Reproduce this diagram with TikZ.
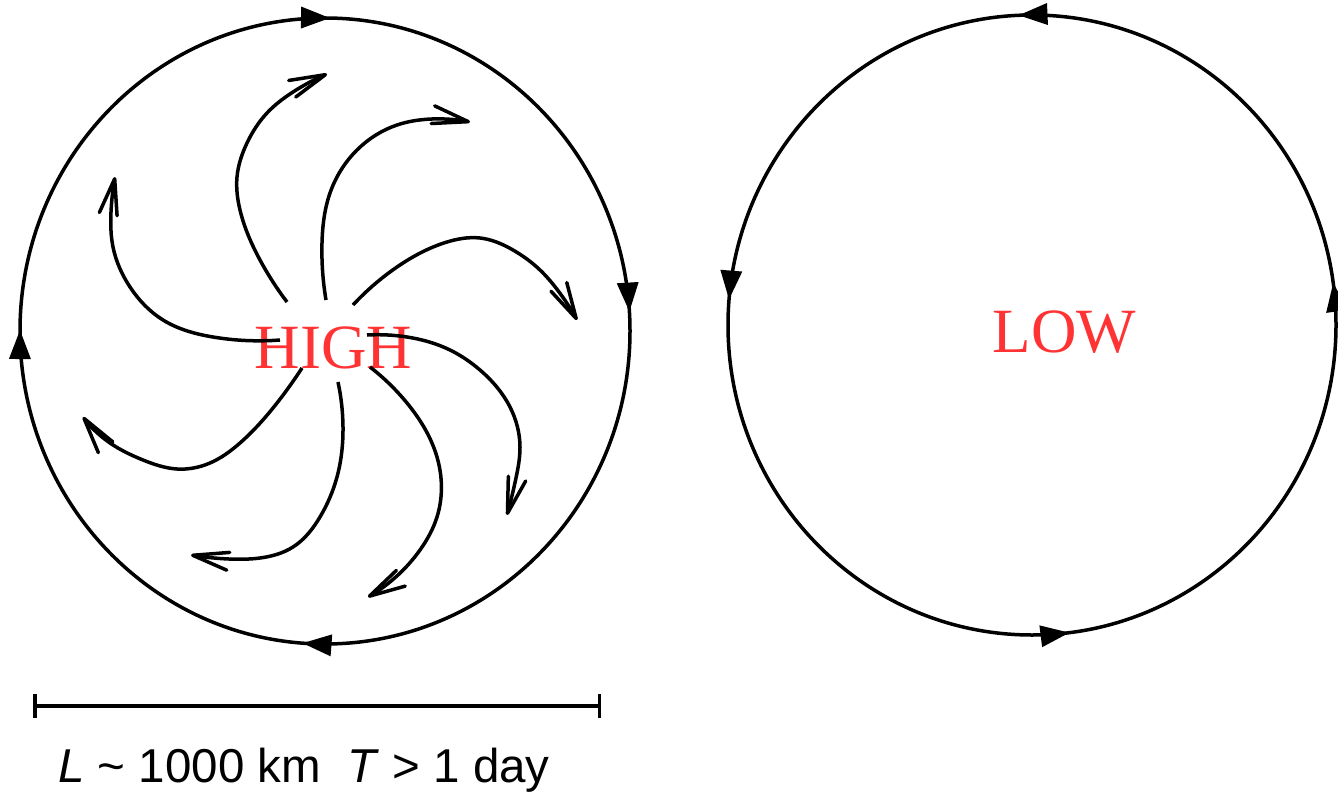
\documentclass[tikz,border=0pt]{standalone}
\usepackage{fontspec}
\setmainfont{Liberation Serif}
\setsansfont{Liberation Sans}
\usetikzlibrary{arrows.meta,decorations.markings,hobby}
\definecolor{pressred}{RGB}{255,51,51}
\begin{document}
\begin{tikzpicture}[x=1pt,y=-1pt,line width=3.5pt,
  flow/.style={-{Straight Barb[length=36pt,width=18pt,line width=3.5pt,round]}, use Hobby shortcut},
  circ/.style={line width=3.5pt},
  cw/.style={postaction={decorate},decoration={markings,
    mark=at position 0.0100 with {\arrowreversed{Triangle[length=29pt,width=21pt]}},
    mark=at position 0.2474 with {\arrowreversed{Triangle[length=29pt,width=21pt]}},
    mark=at position 0.4995 with {\arrowreversed{Triangle[length=29pt,width=21pt]}},
    mark=at position 0.7384 with {\arrowreversed{Triangle[length=29pt,width=21pt]}}}},
  ccw/.style={postaction={decorate},decoration={markings,
    mark=at position 0.022 with {\arrow{Triangle[length=29pt,width=21pt]}},
    mark=at position 0.257 with {\arrow{Triangle[length=29pt,width=21pt]}},
    mark=at position 0.4868 with {\arrow{Triangle[length=29pt,width=21pt]}},
    mark=at position 0.7695 with {\arrow{Triangle[length=29pt,width=21pt]}}}},
  label/.style={text=pressred,font=\fontsize{63}{70}\selectfont,inner sep=0pt,anchor=base},
  scaletext/.style={font=\sffamily\fontsize{47.5}{54}\selectfont,inner sep=0pt,anchor=base}
]
\useasboundingbox (0,0) rectangle (1338,797);

% circles
\draw[circ,cw] (325,331) ellipse [x radius=305pt, y radius=313pt];
\draw[circ,ccw] (1032,325) ellipse [x radius=304pt, y radius=310pt];

% labels
\node[label] (high) at (333.5,368) {HIGH};
\node[label] (low) at (1064.5,352) {LOW};

% outflow spiral arrows
\draw[flow] (280,340) .. (213,337) .. (163,320) .. (130,287) .. (113,247) .. (111,212) .. (115,177);
\draw[flow] (287,302) .. (260,260) .. (240,210) .. (237,177) .. (247,143) .. (267,113) .. (293,92) .. (327,74);
\draw[flow] (326,300) .. (322,243) .. (330,193) .. (357,150) .. (397,125) .. (432,119) .. (470,122);
\draw[flow] (353,305) .. (397,267) .. (447,242) .. (480,238) .. (513,250) .. (540,270) .. (556,288) .. (577,320);
\draw[flow] (367,335) .. (407,337) .. (450,350) .. (480,370) .. (510,407) .. (520,447) .. (516,478) .. (507,515);
\draw[flow] (370,367) .. (407,403) .. (437,457) .. (437,517) .. (420,550) .. (398,575) .. (368,597);
\draw[flow] (338,382) .. (343,427) .. (337,477) .. (320,517) .. (293,547) .. (260,558) .. (229,559) .. (191,555);
\draw[flow] (302,368) .. (277,403) .. (240,443) .. (210,463) .. (177,469) .. (143,460) .. (110,443) .. (83,417);

% scale bar
\coordinate (barL) at (33,706);
\coordinate (barR) at (601,706);
\draw[{Bar[width=24pt]}-{Bar[width=24pt]}] (barL) -- (barR);
\node[scaletext] (scale) at (304,782) {\textit{L} \textasciitilde{} 1000 km\ \ \textit{T} > 1 day};
\end{tikzpicture}
\end{document}
